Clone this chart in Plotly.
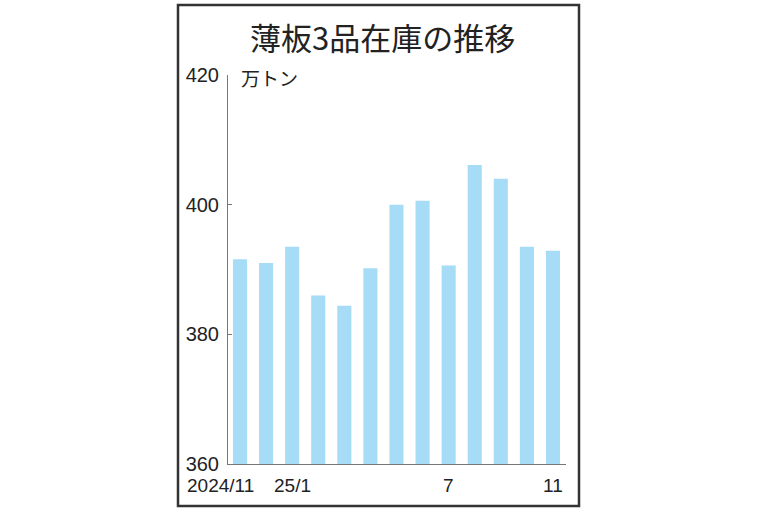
import plotly.graph_objects as go

months = ["2024/11", "12", "25/1", "2", "3", "4", "5", "6", "7", "8", "9", "10", "11"]
inventory = [391.6, 391.0, 393.5, 386.0, 384.4, 390.2, 400.0, 400.6, 390.6, 406.1, 404.0, 393.5, 392.9]
shown_labels = ["2024/11", "", "25/1", "", "", "", "", "", "7", "", "", "", "11"]
y_ticks = [360, 380, 400, 420]

title_text = "薄板3品在庫の推移"
unit_text = "万トン"

x_idx = list(range(len(months)))

fig = go.Figure()
fig.add_trace(go.Bar(
    x=x_idx, y=inventory,
    marker=dict(color="#a6dcf6", line=dict(width=0)),
    width=0.54,
    hoverinfo="skip",
))

L, R, T, B = 228, 202, 75, 48
W, H = 768, 512
pw, ph = W - L - R, H - T - B

def px(xp):
    return (xp - L) / pw

def py(yp):
    return (H - B - yp) / ph

fig.update_layout(
    width=W, height=H,
    margin=dict(l=L, r=R, t=T, b=B, pad=0),
    paper_bgcolor="white", plot_bgcolor="white",
    showlegend=False,
    bargap=0.46,
    xaxis=dict(
        range=[-0.46, 12.5], showgrid=False, zeroline=False,
        showline=True, linecolor="#777777", linewidth=1,
        ticks="", showticklabels=False, fixedrange=True,
    ),
    yaxis=dict(
        range=[360, 420], tickvals=y_ticks, ticktext=[str(v) for v in y_ticks],
        showgrid=False, zeroline=False,
        showline=True, linecolor="#777777", linewidth=1,
        ticks="inside", ticklen=4, tickcolor="#777777",
        tickfont=dict(family="Liberation Sans, Arial, sans-serif", size=20, color="#222222"),
        ticklabelstandoff=4,
    ),
    font=dict(family="Liberation Sans, Arial, sans-serif", color="#222222"),
)

xfont = dict(family="Liberation Sans Narrow, Arial Narrow, Liberation Sans, sans-serif", size=19, color="#222222")
for i, lab in enumerate(shown_labels):
    if not lab:
        continue
    if i == 0:
        fig.add_annotation(x=i, y=py(485), xref="x", yref="paper", text=lab,
                           showarrow=False, xanchor="right", yanchor="middle", xshift=16,
                           font=xfont)
    else:
        fig.add_annotation(x=i, y=py(485), xref="x", yref="paper", text=lab,
                           showarrow=False, xanchor="center", yanchor="middle",
                           font=xfont)

fig.add_annotation(x=px(382), y=py(36), xref="paper", yref="paper", text=title_text,
                   showarrow=False, xanchor="center", yanchor="middle",
                   font=dict(family="Noto Sans CJK JP", size=31, color="#222222"))
fig.add_annotation(x=px(239), y=py(77), xref="paper", yref="paper", text=unit_text,
                   showarrow=False, xanchor="left", yanchor="middle",
                   font=dict(family="Noto Sans CJK JP", size=19, color="#222222"))

fig.add_shape(type="rect", xref="paper", yref="paper",
              x0=px(178), x1=px(579), y0=py(506), y1=py(5),
              line=dict(color="#333333", width=2.5), fillcolor="rgba(0,0,0,0)", layer="below")

fig.write_html("out.html", config={"displayModeBar": False},
               post_script="document.body.style.margin='0';document.body.style.padding='0';")
